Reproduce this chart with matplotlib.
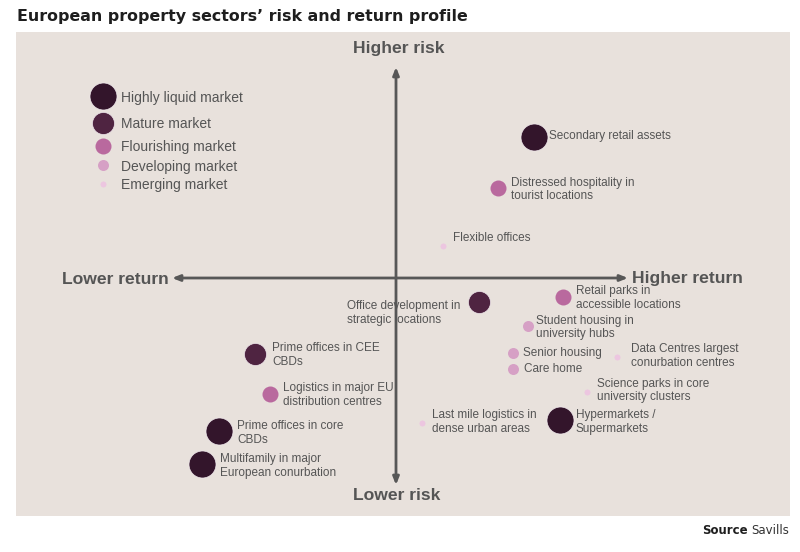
import matplotlib
matplotlib.use("Agg")
import matplotlib.pyplot as plt

# ---------------- data ----------------
sectors = [
    "Secondary retail assets",
    "Distressed hospitality in\ntourist locations",
    "Flexible offices",
    "Office development in\nstrategic locations",
    "Retail parks in\naccessible locations",
    "Student housing in\nuniversity hubs",
    "Senior housing",
    "Care home",
    "Data Centres largest\nconurbation centres",
    "Science parks in core\nuniversity clusters",
    "Hypermarkets /\nSupermarkets",
    "Last mile logistics in\ndense urban areas",
    "Prime offices in CEE\nCBDs",
    "Logistics in major EU\ndistribution centres",
    "Prime offices in core\nCBDs",
    "Multifamily in major\nEuropean conurbation",
]
# relative return (x) and risk (y) position
ret_score = [138, 102, 47, 83, 167, 132, 117, 117, 221, 191, 164, 26, -141, -126, -177, -194]
risk_score = [141, 90, 32, -24, -19, -48, -75, -91, -79, -114, -142, -145, -76, -116, -153, -186]
# market maturity category index (0 = highly liquid ... 4 = emerging)
maturity = [0, 2, 4, 1, 2, 3, 3, 3, 4, 4, 0, 4, 1, 2, 0, 0]

categories = ["Highly liquid market", "Mature market", "Flourishing market",
              "Developing market", "Emerging market"]

axis_labels = ["Higher risk", "Lower risk", "Lower return", "Higher return"]

# ---------------- styles / layout ----------------
cat_colors = ["#33152b", "#4f2441", "#b9699e", "#d6a0c5", "#ecc6e0"]
cat_diam_px = [27, 22, 16, 11, 6]
cat_edge = [0.5, 0.5, 0.0, 0.0, 0.0]
PX = 72.0 / 100.0  # points per pixel at dpi 100
cat_sizes = [(d * PX) ** 2 for d in cat_diam_px]

# label offsets in pixels (dx right, dy down) and horizontal alignment
label_off = [
    (15, -1, "left"), (13, 1.5, "left"), (10, -8, "left"), (-19, 11, "right"),
    (13, 1, "left"), (8, 1.5, "left"), (10, 0, "left"), (11, 0, "left"),
    (14, -1, "left"), (10, -1.5, "left"), (16, 2, "left"), (10, -1, "left"),
    (17, 1, "left"), (13, 1, "left"), (18, 2, "left"), (18, 2, "left"),
]

TXT = "#555555"
AXC = "#575757"
BG = "#e8e1dc"
FONT = ["Liberation Sans", "DejaVu Sans"]

W, H = 800, 552
fig = plt.figure(figsize=(W / 100, H / 100), dpi=100)
fig.patch.set_facecolor("white")

# panel in pixel coords: x 16..790, y 32..516; origin of quadrant at (396, 278)
pl, pr, pt, pb = 16, 790, 32, 516
ox, oy = 396, 278
ax = fig.add_axes([pl / W, 1 - pb / H, (pr - pl) / W, (pb - pt) / H])
ax.set_xlim(pl - ox, pr - ox)
ax.set_ylim(oy - pb, oy - pt)
ax.set_facecolor(BG)
for s in ax.spines.values():
    s.set_visible(False)
ax.set_xticks([])
ax.set_yticks([])

def X(px):
    return px - ox

def Y(py):
    return oy - py

# axes arrows
arrow_kw = dict(arrowstyle="-|>,head_length=0.45,head_width=0.18", color=AXC, lw=2.0,
                shrinkA=0, shrinkB=0)
ax.annotate("", xy=(X(172), 0), xytext=(0, 0), arrowprops=arrow_kw)
ax.annotate("", xy=(X(628), 0), xytext=(0, 0), arrowprops=arrow_kw)
ax.annotate("", xy=(0, Y(67)), xytext=(0, 0), arrowprops=arrow_kw)
ax.annotate("", xy=(0, Y(485)), xytext=(0, 0), arrowprops=arrow_kw)

ax_font = dict(fontsize=12.6, fontweight="bold", color=TXT, family=FONT)
ax.text(X(399), Y(49), axis_labels[0], ha="center", va="center", **ax_font)
ax.text(X(397), Y(495), axis_labels[1], ha="center", va="center", **ax_font)
ax.text(X(169), Y(279), axis_labels[2], ha="right", va="center", **ax_font)
ax.text(X(632), Y(278), axis_labels[3], ha="left", va="center", **ax_font)

# points
for name, xr, yr, m, off in zip(sectors, ret_score, risk_score, maturity, label_off):
    ax.scatter([xr], [yr], s=cat_sizes[m], c=cat_colors[m], edgecolors="#efe7ec",
               linewidths=cat_edge[m], zorder=3)
    dx, dy, ha = off
    ax.annotate(name, xy=(xr, yr), xytext=(dx * PX, -dy * PX), textcoords="offset points",
                ha=ha, va="center", multialignment="left", fontsize=8.5, color=TXT,
                family=FONT, linespacing=1.18, zorder=4)

# legend
leg_y = [96, 123, 146, 165, 184]
leg_ty = [98, 124, 147, 167, 185]
for i, cat in enumerate(categories):
    ax.scatter([X(103)], [Y(leg_y[i])], s=cat_sizes[i], c=cat_colors[i],
               edgecolors="#efe7ec", linewidths=cat_edge[i], zorder=3)
    ax.text(X(121), Y(leg_ty[i]), cat, ha="left", va="center", fontsize=10,
            color=TXT, family=FONT)

# title and source
fig.text(17 / W, 1 - 16 / H, "European property sectors\u2019 risk and return profile",
         ha="left", va="center", fontsize=11.4, fontweight="bold", color="#1e1e1e",
         family=["DejaVu Sans"])
t1 = fig.text(789 / W, 1 - 531 / H, "Savills", ha="right", va="center", fontsize=8.5,
              color="#333333", family=["DejaVu Sans"])
fig.canvas.draw()
bb = t1.get_window_extent()
fig.text((bb.x0 - 3) / W, 1 - 531 / H, "Source", ha="right", va="center", fontsize=8.5,
         fontweight="bold", color="#1e1e1e", family=["DejaVu Sans"])

fig.savefig("out.png", dpi=100, facecolor="white")
